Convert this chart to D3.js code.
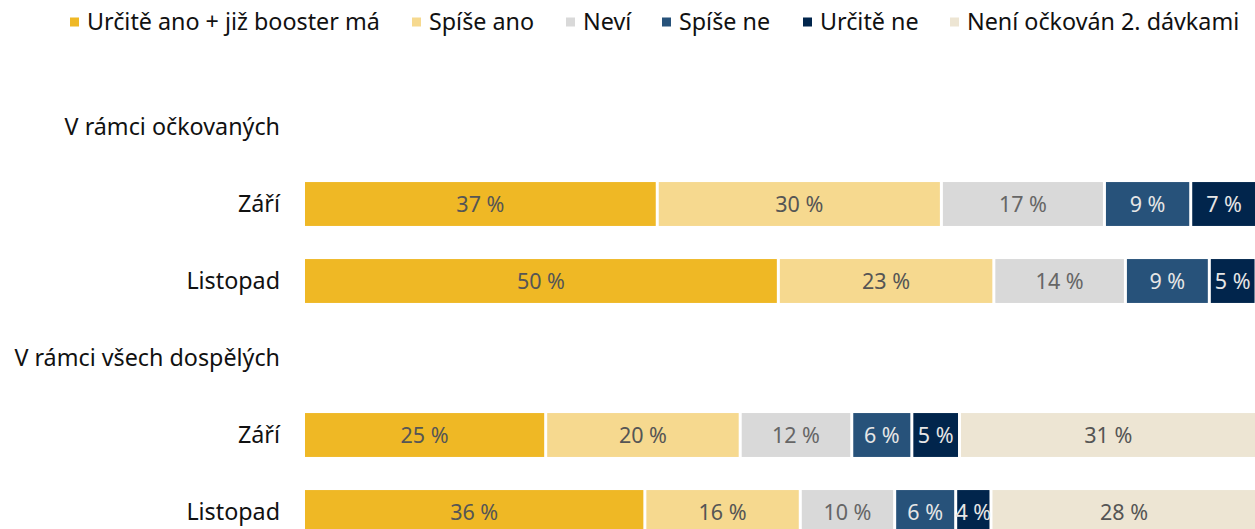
<!DOCTYPE html>
<html><head><meta charset="utf-8">
<script src="https://cdn.jsdelivr.net/npm/d3@7"></script>
<style>
html,body{margin:0;padding:0;background:#fff;overflow:hidden;}
text{font-family:"Noto Sans","Open Sans",sans-serif;}
</style></head>
<body><svg id="chart" width="1255" height="529"></svg>
<script>
const seriesNames = ["Určitě ano + již booster má","Spíše ano","Neví","Spíše ne","Určitě ne","Není očkován 2. dávkami"];
const seriesColors = ["#EFB825","#F6D98F","#D9D9D9","#27527A","#01254C","#EDE5D3"];
const labelColors = ["#555","#555","#666","#e6e6e6","#e6e6e6","#555"];
const rowKeys = ["h1","r1","r2","h2","r3","r4"];
const rowLabels = ["V rámci očkovaných","Září","Listopad","V rámci všech dospělých","Září","Listopad"];
const isHeader = [true,false,false,true,false,false];
// values per row (percent)
const zariOckovani     = [37.1,29.8,17.1,9.05,7.0,0];
const listopadOckovani = [49.8,22.6,13.8,8.8,4.9,0];
const zariDospeli      = [25.4,20.4,11.7,6.3,5.0,31.2];
const listopadDospeli  = [35.8,16.3,9.9,6.4,3.7,27.9];
const rowValues = {r1:zariOckovani,r2:listopadOckovani,r3:zariDospeli,r4:listopadDospeli};

const svg = d3.select("#chart");
const x = d3.scaleLinear().domain([0,100]).range([303.5,1257]);
const y = d3.scaleBand().domain(rowKeys).range([88.5,550.5]).paddingInner(0.43).paddingOuter(0.215);

// row labels
svg.append("g").selectAll("text").data(rowKeys).join("text")
  .attr("x",280).attr("y",k=>y(k)+y.bandwidth()/2)
  .attr("dy","0.35em").attr("text-anchor","end")
  .attr("font-size",23.3).attr("fill","#111")
  .text((k,i)=>rowLabels[i]);

// bars
const bars = svg.append("g");
rowKeys.forEach((k,i)=>{
  if(isHeader[i]) return;
  const vals = rowValues[k];
  let cum = 0;
  const segs = vals.map((v,j)=>{const s={j,v,x0:cum,x1:cum+v}; cum+=v; return s;}).filter(s=>s.v>0);
  const g = bars.append("g");
  g.selectAll("rect").data(segs).join("rect")
    .attr("x",s=>x(s.x0)+1.5).attr("width",s=>x(s.x1)-x(s.x0)-3)
    .attr("y",y(k)).attr("height",y.bandwidth())
    .attr("fill",s=>seriesColors[s.j]);
  g.selectAll("text").data(segs).join("text")
    .attr("x",s=>(x(s.x0)+x(s.x1))/2).attr("y",y(k)+y.bandwidth()/2)
    .attr("dy","0.35em").attr("text-anchor","middle")
    .attr("font-size",21.5).attr("fill",s=>labelColors[s.j])
    .text(s=>Math.round(s.v)+" %");
});

// legend
const legendX = [70,412,566,662,803,950];
const lg = svg.append("g").selectAll("g").data(seriesNames).join("g")
  .attr("transform",(d,i)=>`translate(${legendX[i]},22)`);
lg.append("rect").attr("x",0).attr("y",-4.5).attr("width",9).attr("height",9)
  .attr("fill",(d,i)=>seriesColors[i]);
lg.append("text").attr("x",17).attr("y",0).attr("dy","0.35em")
  .attr("font-size",23.3).attr("fill","#111").text(d=>d);
</script></body></html>
